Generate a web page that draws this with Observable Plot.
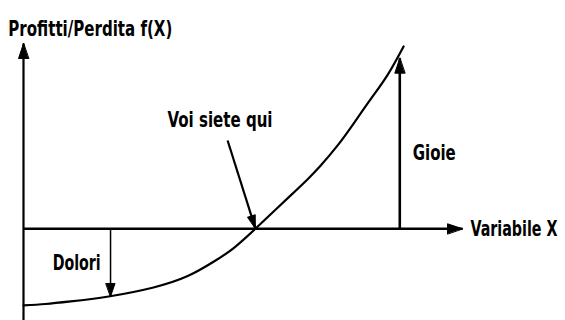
<!DOCTYPE html>
<html><head><meta charset="utf-8">
<script src="https://cdn.jsdelivr.net/npm/d3@7"></script>
<script src="https://cdn.jsdelivr.net/npm/@observablehq/plot@0.6"></script>
<style>html,body{margin:0;padding:0;background:#fff} svg{display:block} svg text{font-stretch:condensed}</style>
</head><body><div id="chart"></div>
<script>
// Curve f(X)
const curveX = [0, 0.58, 1.24, 2.24, 3.42, 4.32, 5.0, 5.53, 6.1, 6.58, 7.03, 7.47, 7.82, 8.26, 8.68, 9.13, 9.58, 10];
const curveY = [-4.18, -4.1, -3.96, -3.69, -3.2, -2.58, -1.8, -1.05, 0, 0.94, 1.82, 2.69, 3.45, 4.53, 5.72, 7.05, 8.39, 9.94];

// Arrows: start and tip in data units
const arrowNames = ["yAxis", "xAxis", "gioie", "dolori", "voi"];
const arrowX1 = [0, 0, 9.9, 2.29, 5.37];
const arrowY1 = [-5, 0, 0, 0, 4.81];
const arrowX2 = [0, 11.55, 9.9, 2.29, 6.1];
const arrowY2 = [10.1, 0, 9.3, -3.69, 0.02];

// Labels
const labelText = ["Profitti/Perdita f(X)", "Variabile X", "Voi siete qui", "Gioie", "Dolori"];
const labelX = [-0.4, 11.76, 5.17, 10.24, 2.03];
const labelY = [10.92, 0, 5.92, 4.16, -1.84];

// styles
const arrowStyle = {
  yAxis: {w: 2.2, rot: 0, len: 15, r: 5},
  xAxis: {w: 2.4, rot: 90, len: 15, r: 5},
  gioie: {w: 2.6, rot: 0, len: 15, r: 5},
  dolori: {w: 1.5, rot: 180, len: 13, r: 4.5},
  voi: {w: 2.2, rot: 162.3, len: 13, r: 4}
};
const labelStyle = [
  {anchor: "start", width: 164},
  {anchor: "start", width: 87},
  {anchor: "middle", width: 105},
  {anchor: "start", width: 43},
  {anchor: "end", width: 48}
];

const curve = curveX.map((x, i) => ({x, y: curveY[i]}));
const arrows = arrowNames.map((n, i) => ({
  name: n, x1: arrowX1[i], y1: arrowY1[i], x2: arrowX2[i], y2: arrowY2[i], ...arrowStyle[n]
}));
const labels = labelText.map((t, i) => ({text: t, x: labelX[i], y: labelY[i], ...labelStyle[i]}));

const head = {
  draw(ctx, l, r) {
    ctx.moveTo(0, -l);
    ctx.lineTo(-r, 0);
    ctx.lineTo(r, 0);
    ctx.closePath();
  }
};

const font = "'DejaVu Sans Condensed', 'DejaVu Sans', sans-serif";

const chart = Plot.plot({
  width: 565,
  height: 320,
  marginLeft: 23,
  marginRight: 103,
  marginTop: 43,
  marginBottom: 0,
  x: {domain: [0, 11.55], axis: null},
  y: {domain: [-5, 10.1], axis: null},
  marks: [
    Plot.line(curve, {x: "x", y: "y", curve: "natural", stroke: "black", strokeWidth: 2.2}),
    Plot.link(arrows, {x1: "x1", y1: "y1", x2: "x2", y2: "y2", stroke: "black", strokeWidth: d => d.w}),
    ...arrows.map(a => Plot.vector([a], {
      x: "x2", y: "y2", rotate: a.rot, length: a.len, r: a.r, anchor: "end",
      shape: head, fill: "black", stroke: "black", strokeWidth: 1
    })),
    ...["start", "middle", "end"].map(anc => Plot.text(labels.filter(d => d.anchor === anc), {
      x: "x", y: "y", text: "text", textAnchor: anc,
      fontFamily: font, fontSize: 22, fontWeight: "bold", fill: "black"
    }))
  ]
});
// fit each label to the width it has in the reference
d3.select(chart).selectAll("text").each(function () {
  const t = this.textContent;
  const lab = labels.find(d => d.text === t);
  if (lab) {
    this.setAttribute("textLength", lab.width);
    this.setAttribute("lengthAdjust", "spacingAndGlyphs");
  }
});
document.getElementById("chart").appendChild(chart);
</script>
</body></html>
